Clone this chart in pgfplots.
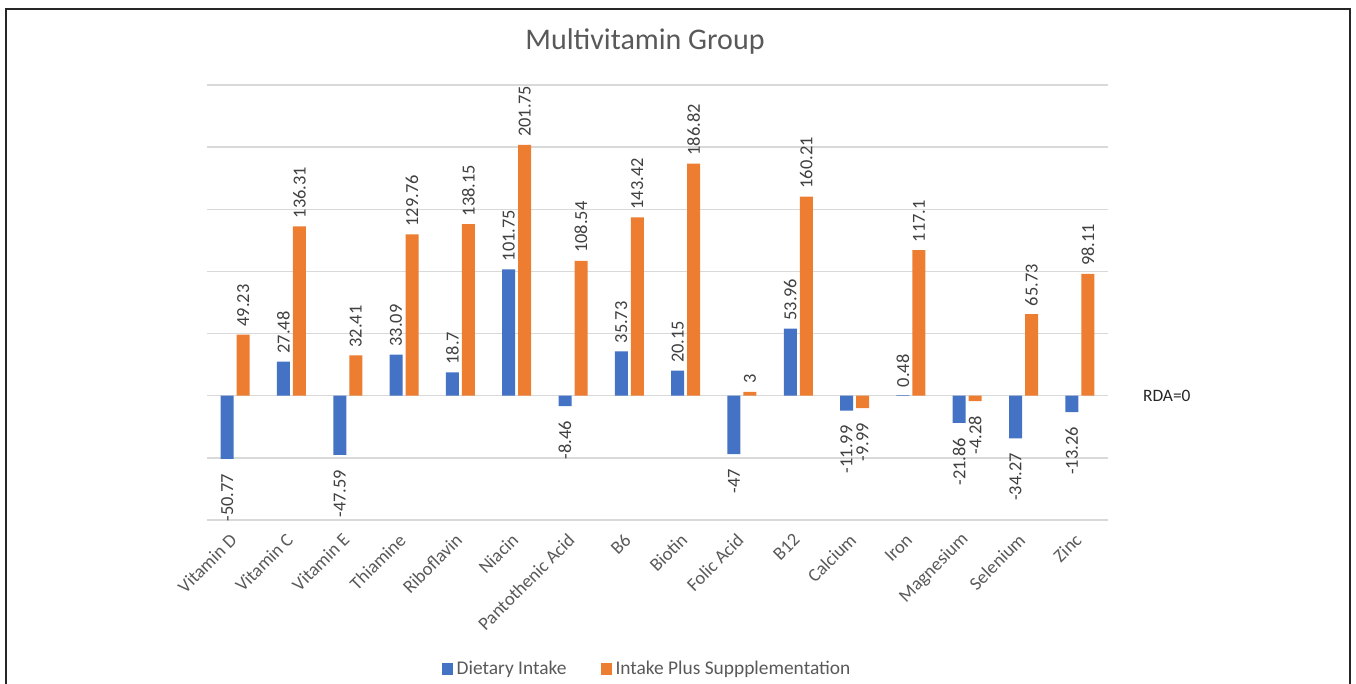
\documentclass[border=0pt]{standalone}
\usepackage{pgfplots}
\usepackage{pgfplotstable}
\pgfplotsset{compat=1.18}
\usepackage{fontspec}
\setmainfont{Carlito}
\definecolor{barblue}{HTML}{4472C4}
\definecolor{barorange}{HTML}{ED7D31}
\definecolor{gridgray}{HTML}{D9D9D9}
\definecolor{labgray}{HTML}{595959}
\definecolor{datgray}{HTML}{404040}

\pgfplotstableread{
x y
0 -50.77
1 27.48
2 -47.59
3 33.09
4 18.7
5 101.75
6 -8.46
7 35.73
8 20.15
9 -47
10 53.96
11 -11.99
12 0.48
13 -21.86
14 -34.27
15 -13.26
}\dietary

\pgfplotstableread{
x y
0 49.23
1 136.31
2 32.41
3 129.76
4 138.15
5 201.75
6 108.54
7 143.42
8 186.82
9 3
10 160.21
11 -9.99
12 117.1
13 -4.28
14 65.73
15 98.11
}\supp

\begin{document}
\begin{tikzpicture}
\path[use as bounding box] (0,0) rectangle (678pt,342pt);
\draw[line width=0.8pt, black!85] (3pt,-2pt) -- (3pt,337.5pt) -- (675pt,337.5pt) -- (675pt,-2pt);
\node[font=\fontsize{15}{18}\selectfont, text=labgray] at (322.5pt,321pt) {Multivitamin Group};
\begin{axis}[
  at={(103.5pt,82pt)}, anchor=south west,
  width=450.5pt, height=217.5pt, scale only axis,
  clip=false,
  ybar=1.5pt, bar width=6.5pt,
  xmin=-0.5, xmax=15.5, ymin=-100, ymax=250,
  ytick={-100,-50,...,250}, yticklabel=\empty,
  ymajorgrids, grid style={draw=gridgray, line width=0.75pt},
  axis line style={draw=none}, tick style={draw=none},
  xtick={0,...,15},
  xticklabels={Vitamin D,Vitamin C,Vitamin E,Thiamine,Riboflavin,Niacin,Pantothenic Acid,B6,Biotin,Folic Acid,B12,Calcium,Iron,Magnesium,Selenium,Zinc},
  xticklabel style={yshift=-3.4pt, rotate=45, anchor=east, font=\fontsize{9.3}{11}\selectfont, text=labgray, inner sep=1pt},
  legend style={at={(0.4895,-0.3425)}, anchor=center, draw=none, fill=none, legend columns=2, font=\fontsize{9.7}{11}\selectfont, text=labgray,
    /tikz/every even column/.append style={column sep=15pt}},
  legend image code/.code={\fill[#1] (0pt,-2.8pt) rectangle (5.5pt,2.8pt);},
  lbl/.style={
    nodes near coords={\pgfmathprintnumber[assume math mode=true]{\pgfplotspointmeta}},
    point meta=rawy,
    visualization depends on={rawy \as \rawyv},
    every node near coord/.append style={/utils/exec={\ifdim\rawyv pt<0pt \gdef\myanc{east}\gdef\myys{-3.5pt}\else\gdef\myanc{west}\gdef\myys{0pt}\fi}, yshift=\myys, rotate=90, anchor=\myanc, font=\fontsize{9.2}{11}\selectfont, text=datgray, inner xsep=3.8pt, inner ysep=1pt},
  },
]
\addplot[fill=barblue, draw=none, lbl] table[x=x, y=y] {\dietary};
\addplot[fill=barorange, draw=none, lbl] table[x=x, y=y] {\supp};
\legend{Dietary Intake, Intake Plus Suppplementation}
\end{axis}
\node[anchor=west, font=\fontsize{8.7}{11}\selectfont, text=black!85] at (568pt,144pt) {RDA=0};
\end{tikzpicture}
\end{document}
